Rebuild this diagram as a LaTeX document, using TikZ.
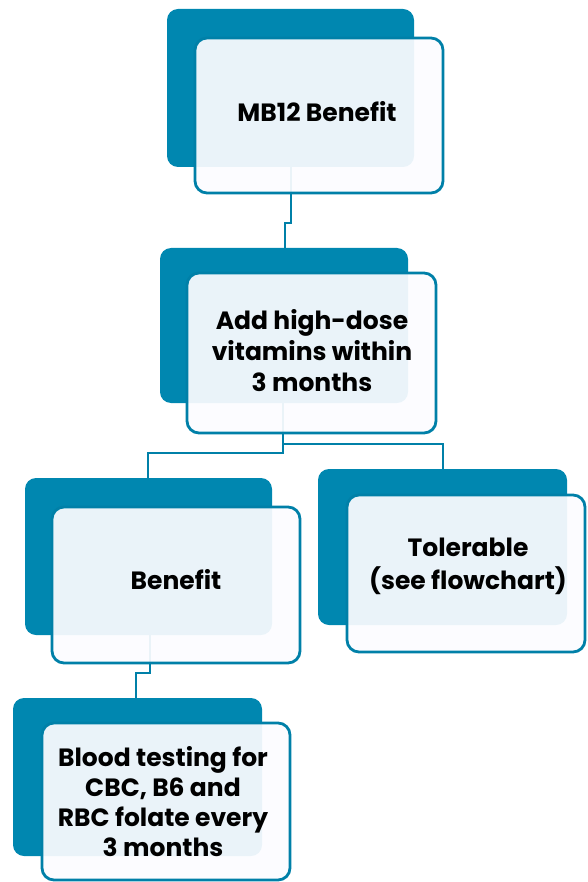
\documentclass[tikz,border=0pt]{standalone}
\usepackage{fontspec}
\setmainfont{Poppins}
\pgfdeclarelayer{bg}
\pgfsetlayers{bg,main}
\definecolor{tealdark}{RGB}{0,135,176}
\definecolor{tealline}{RGB}{0,128,168}
\definecolor{cardwash}{RGB}{252,252,255}
\begin{document}
\begin{tikzpicture}[x=1pt,y=-1pt,
  backbox/.style={fill=tealdark, rounded corners=11pt, inner sep=0pt},
  frontbox/.style={draw=tealline, line width=2.8pt, fill=cardwash, fill opacity=0.93,
    text opacity=1, rounded corners=12pt, inner sep=0pt},
  cardtext/.style={align=center, text=black,
    font=\fontsize{25}{#1}\selectfont\bfseries},
  cardtext/.default=31,
  link/.style={draw=tealline, line width=2.8pt}]
\useasboundingbox (0,0) rectangle (587,882);

% back panels
\node[backbox, minimum width=247pt, minimum height=158pt] (b1) at (290.5,88) {};
\node[backbox, minimum width=248pt, minimum height=155pt] (b2) at (284,325.5) {};
\node[backbox, minimum width=247pt, minimum height=157pt] (b3) at (148.5,556.5) {};
\node[backbox, minimum width=249pt, minimum height=156pt] (b4) at (442.5,547) {};
\node[backbox, minimum width=249pt, minimum height=158pt] (b5) at (137.5,777) {};

% front cards with the texts
\node[frontbox, minimum width=248pt, minimum height=155pt] (f1) at (319,115.5) {};
\node[cardtext] (t1) at (317,112) {MB12 Benefit};
\node[frontbox, minimum width=249pt, minimum height=160pt] (f2) at (311.5,353) {};
\node[cardtext] (t2) at (312,351) {Add high-dose\\vitamins within\\3 months};
\node[frontbox, minimum width=248pt, minimum height=156pt] (f3) at (176,585) {};
\node[cardtext] (t3) at (176,580) {Benefit};
\node[frontbox, minimum width=238pt, minimum height=157pt] (f4) at (466,573.5) {};
\node[cardtext=33] (t4) at (468,566) {Tolerable\\(see flowchart)};
\node[frontbox, minimum width=248pt, minimum height=157pt] (f5) at (166,801.5) {};
\node[cardtext=30] (t5) at (163,802) {Blood testing for\\CBC, B6 and\\RBC folate every\\3 months};

% connectors, under the panels
\coordinate (j1a) at (291,223);
\coordinate (j1b) at (285,223);
\coordinate (j2a) at (283,444);
\coordinate (j2b) at (283,453);
\coordinate (j2l) at (148,453);
\coordinate (j2r) at (443,444);
\coordinate (j3a) at (150,673);
\coordinate (j3b) at (136,673);
\begin{pgfonlayer}{bg}
  \draw[link] (j1a |- b1.south) -- (j1a) -- (j1b) -- (j1b |- b2.north);
  \draw[link] (j2b |- b2.south) -- (j2b) -- (j2l) -- (j2l |- b3.north);
  \draw[link] (j2a) -- (j2r) -- (j2r |- b4.north);
  \draw[link] (j3a |- b3.south) -- (j3a) -- (j3b) -- (j3b |- b5.north);
\end{pgfonlayer}
\end{tikzpicture}
\end{document}
